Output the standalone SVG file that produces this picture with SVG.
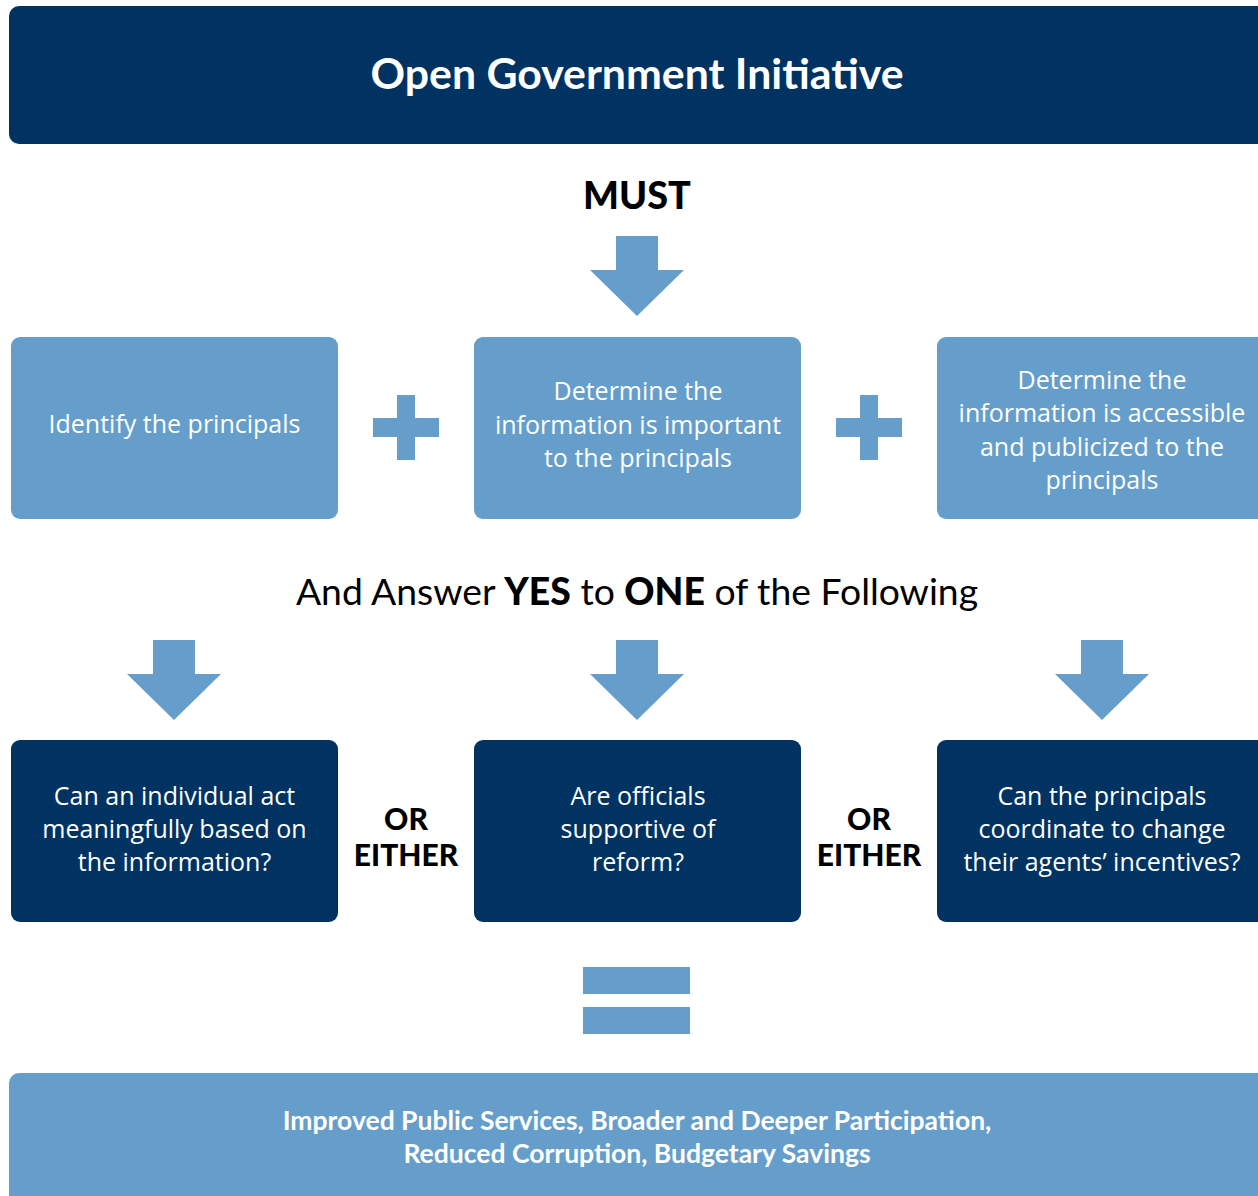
<svg xmlns="http://www.w3.org/2000/svg" width="1258" height="1196" viewBox="0 0 1258 1196">
<style>
.dark{fill:#003361}
.light{fill:#659ECA}
.t{font-family:Lato,"Open Sans","Liberation Sans",sans-serif;text-anchor:middle}
.w{fill:#ffffff}
.box{font-family:"Open Sans",Lato,"Liberation Sans",sans-serif;font-size:25px}
.bk{fill:#000000}
</style>
<defs>
<path id="down" d="M-21,0 H21 V34 H47 L0,80 L-47,34 H-21 Z"/>
<path id="plus" d="M-9,0 H9 V23 H33 V42 H9 V65 H-9 V42 H-33 V23 H-9 Z"/>
</defs>
<g id="title">
<rect class="dark" x="9" y="6" width="1270" height="138" rx="10"/>
<text class="t w" x="637" y="89" font-size="42.8" font-weight="bold">Open Government Initiative</text>
</g>
<g id="must">
<text class="t bk" x="637" y="209" font-size="37.8" font-weight="900">MUST</text>
</g>
<g id="connectors">
<use href="#down" class="light" x="637" y="236"/>
<use href="#plus" class="light" x="406" y="395"/>
<use href="#plus" class="light" x="869" y="395"/>
<use href="#down" class="light" x="174" y="640"/>
<use href="#down" class="light" x="637" y="640"/>
<use href="#down" class="light" x="1102" y="640"/>
<rect class="light" x="583" y="967" width="107" height="27"/>
<rect class="light" x="583" y="1007" width="107" height="27"/>
</g>
<g id="box1">
<rect class="light" x="11" y="337" width="327" height="182" rx="9"/>
<text class="t w box" x="174.5" y="433">Identify the principals</text>
</g>
<g id="box2">
<rect class="light" x="474" y="337" width="327" height="182" rx="9"/>
<text class="t w box" x="638"><tspan x="638" y="400">Determine the</tspan><tspan x="638" y="434">information is important</tspan><tspan x="638" y="467">to the principals</tspan></text>
</g>
<g id="box3">
<rect class="light" x="937" y="337" width="340" height="182" rx="9"/>
<text class="t w box" x="1102"><tspan x="1102" y="389">Determine the</tspan><tspan x="1102" y="422">information is accessible</tspan><tspan x="1102" y="456">and publicized to the</tspan><tspan x="1102" y="489">principals</tspan></text>
</g>
<g id="answer">
<text class="t bk" x="637" y="605" font-size="37.3">And Answer <tspan font-weight="900">YES</tspan> to <tspan font-weight="900">ONE</tspan> of the Following</text>
</g>
<g id="q1">
<rect class="dark" x="11" y="740" width="327" height="182" rx="9"/>
<text class="t w box" x="174.5"><tspan x="174.5" y="805">Can an individual act</tspan><tspan x="174.5" y="838">meaningfully based on</tspan><tspan x="174.5" y="871">the information?</tspan></text>
</g>
<g id="or1">
<text class="t bk" font-size="30" font-weight="900"><tspan x="406" y="830">OR</tspan><tspan x="406" y="866">EITHER</tspan></text>
</g>
<g id="q2">
<rect class="dark" x="474" y="740" width="327" height="182" rx="9"/>
<text class="t w box" x="638"><tspan x="638" y="805">Are officials</tspan><tspan x="638" y="838">supportive of</tspan><tspan x="638" y="871">reform?</tspan></text>
</g>
<g id="or2">
<text class="t bk" font-size="30" font-weight="900"><tspan x="869" y="830">OR</tspan><tspan x="869" y="866">EITHER</tspan></text>
</g>
<g id="q3">
<rect class="dark" x="937" y="740" width="340" height="182" rx="9"/>
<text class="t w box" x="1102"><tspan x="1102" y="805">Can the principals</tspan><tspan x="1102" y="838">coordinate to change</tspan><tspan x="1102" y="871">their agents’ incentives?</tspan></text>
</g>
<g id="result">
<rect class="light" x="9" y="1073" width="1270" height="140" rx="10"/>
<text class="t w" font-size="26.5" font-weight="bold"><tspan x="637" y="1130">Improved Public Services, Broader and Deeper Participation,</tspan><tspan x="637" y="1163">Reduced Corruption, Budgetary Savings</tspan></text>
</g>
</svg>
